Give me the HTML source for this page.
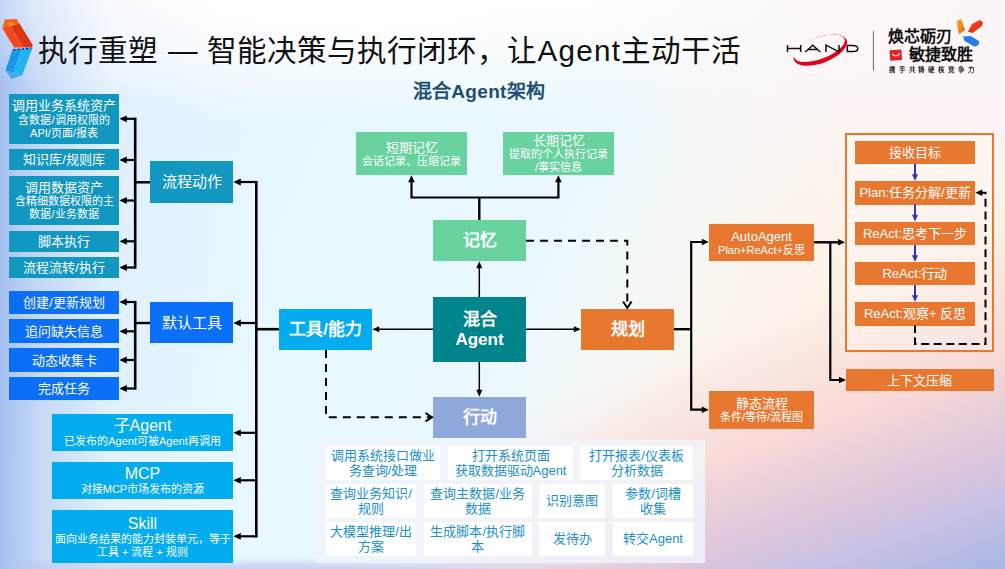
<!DOCTYPE html>
<html lang="zh-CN">
<head>
<meta charset="utf-8">
<title>执行重塑 — 混合Agent架构</title>
<style>
html,body{margin:0;padding:0;}
body{width:1005px;height:569px;position:relative;overflow:hidden;font-family:"Liberation Sans",sans-serif;
background:linear-gradient(115deg, #e2f0ff 0%, #e7f8ff 35%, #ecf9fe 54%, #f6f8f5 62%, #fbf4ec 70%, #fcf0e4 82%, #fbe8de 100%);
}
.bgl{position:absolute;left:0;top:0;width:1005px;height:569px;}
.b{position:absolute;box-sizing:border-box;color:#fff;text-align:center;display:flex;flex-direction:column;justify-content:center;align-items:center;white-space:nowrap;}
.t1{background:#1197c0;}
.t2{background:#0b6ff8;}
.t3{background:#02acee;}
.g{background:#69d3a0;}
.o{background:#e87830;}
.l13{font-size:13px;line-height:15px;}
.l11{font-size:11px;line-height:13px;}
.l15{font-size:15px;line-height:18px;}
.l16{font-size:16px;line-height:18px;}
.bold17{font-size:17px;line-height:20px;font-weight:bold;}
.c{position:absolute;box-sizing:border-box;background:#fff;color:#2090c8;font-size:13px;line-height:15.4px;text-align:center;display:flex;flex-direction:column;justify-content:center;align-items:center;white-space:nowrap;}
#title{position:absolute;left:38px;top:31px;font-size:29.6px;line-height:40px;color:#111;white-space:nowrap;word-spacing:1.7px;}
#sub{position:absolute;left:411px;top:80px;width:136px;font-size:19px;line-height:24px;font-weight:bold;color:#1f4f70;white-space:nowrap;text-align:center;letter-spacing:0.3px;}
svg{position:absolute;left:0;top:0;}
</style>
</head>
<body>

<div class="bgl" style="background:linear-gradient(180deg, rgba(255,255,255,0.85) 0%, rgba(255,255,255,0) 22%);"></div>
<div class="bgl" style="background:radial-gradient(ellipse 420px 270px at 1005px 10px, rgba(253,246,248,1) 0%, rgba(253,246,247,0.75) 45%, rgba(253,246,246,0) 100%);"></div>
<div class="bgl" style="background:linear-gradient(160deg, rgba(250,222,214,0) 64%, rgba(248,214,212,0.85) 77%, rgba(226,200,218,1) 85.5%, rgba(202,194,228,1) 92%, rgba(168,182,228,1) 100%);-webkit-mask-image:linear-gradient(90deg, rgba(0,0,0,0) 30%, #000 68%);mask-image:linear-gradient(90deg, rgba(0,0,0,0) 30%, #000 68%);"></div>
<div class="bgl" style="background:radial-gradient(ellipse 520px 16px at 200px 573px, rgba(190,196,240,0.95) 0%, rgba(190,196,240,0.6) 50%, rgba(196,200,240,0) 100%);"></div>
<div class="bgl" style="background:linear-gradient(90deg, rgba(166,193,240,1) 0px, rgba(186,208,245,0.75) 40px, rgba(215,232,252,0.35) 110px, rgba(230,244,255,0) 220px);"></div>
<div class="bgl" style="background:radial-gradient(ellipse 520px 120px at 330px -10px, rgba(255,255,255,1) 0%, rgba(255,255,255,0) 100%);"></div>
<div id="title">执行重塑 — 智能决策与执行闭环，让<span style="letter-spacing:1.3px;">Agent</span>主动干活</div>
<div id="sub">混合Agent架构</div>


<!-- logos -->
<svg width="1005" height="110" viewBox="0 0 1005 110">
<defs>
<linearGradient id="rg" x1="0" y1="0" x2="1" y2="1"><stop offset="0" stop-color="#ff5a1e"/><stop offset="0.5" stop-color="#e93a14"/><stop offset="1" stop-color="#d42a10"/></linearGradient>
<linearGradient id="bg" x1="0" y1="0" x2="0.6" y2="1"><stop offset="0" stop-color="#0c8ee8"/><stop offset="0.5" stop-color="#1ea8f2"/><stop offset="1" stop-color="#4cb4f4"/></linearGradient>
<linearGradient id="og" x1="0" y1="0" x2="1" y2="1"><stop offset="0" stop-color="#f8b030"/><stop offset="1" stop-color="#ea6212"/></linearGradient>
<mask id="sw"><rect x="780" y="20" width="90" height="60" fill="#fff"/><ellipse cx="819.33" cy="48.15" rx="26.9" ry="10.8" transform="rotate(-20.3 819.33 48.15)" fill="#000"/></mask>
</defs>
<!-- chevron icon -->
<polygon points="2.2,28.1 10.5,26 24,47.6 14.1,47.6" fill="#f2481c"/>
<polygon points="10.5,26 19.5,23.5 32.6,44.7 32.2,47.6 24,47.6" fill="#dc3412"/>
<polygon points="4.9,19.5 16.6,18.9 19.5,23.5 10.5,26 2.2,28.1" fill="#f8621e"/>
<ellipse cx="10.8" cy="24" rx="2.2" ry="1.6" fill="#ffb41e" opacity="0.9"/>
<polygon points="12.3,49.4 22,48.6 13,73 5.5,70.5" fill="#1a96e6"/>
<polygon points="22,48.6 32.6,47.6 22.1,75.5 13,73" fill="#22b4f2"/>
<polygon points="5.5,70.5 13,73 22.1,75.5 11.1,79.1" fill="#4aa8ee"/>
<path d="M13.5 49.6 L31 48.4" stroke="#1430a8" stroke-width="1.6" stroke-dasharray="2 2.2" fill="none"/>
<!-- HAND -->
<g mask="url(#sw)"><ellipse cx="820.4" cy="50.1" rx="28.2" ry="12.9" transform="rotate(-21 820.4 50.1)" fill="#e2001a"/></g>
<g fill="none" stroke="#111" stroke-width="1.5">
<path d="M787.5 45 V52 M800.7 45 V52 M787.5 48.4 H800.7"/>
<path d="M805.2 52 L812.8 45.2 L820.3 52 M808 49.6 H817.6"/>
<path d="M826 52 V45.2 L839 51.8 V45"/>
<path d="M847.3 45.4 H852.5 Q857.8 45.4 857.8 48.5 Q857.8 51.6 852.5 51.6 H847.3 Z"/>
</g>
<line x1="873.4" y1="31" x2="873.4" y2="70.4" stroke="#6a6a6a" stroke-width="1"/>
<!-- shards -->
<polygon points="956.5,21 961.3,18.9 965.1,29.9 958.9,34.5" fill="url(#og)"/>
<polygon points="967.8,31.7 972,24 979.8,20.1 983,22.2 982.2,25.7 972.6,32.9" fill="url(#rg)"/>
<polygon points="963,36.5 970.8,35.9 979.2,41.3 978.6,44.9 974.4,46.7 964.3,40.7" fill="#2a7ce2"/>
<!-- red square -->
<g transform="rotate(-4 896 55)"><rect x="889.8" y="49.8" width="12" height="10.6" rx="0.8" fill="#e0262a"/><path d="M892.5 54.2 Q896 57.6 899.6 54.2" stroke="#fff" stroke-width="1" fill="none" stroke-linecap="round"/></g>
</svg>
<div style="position:absolute;left:888.3px;top:27.3px;font-size:16px;line-height:20px;font-weight:bold;color:#111;white-space:nowrap;">焕芯砺刃</div>
<div style="position:absolute;left:908.7px;top:45.2px;font-size:16px;line-height:20px;font-weight:bold;color:#111;white-space:nowrap;">敏捷致胜</div>
<div style="position:absolute;left:889px;top:62px;font-size:13px;line-height:16px;font-weight:bold;color:#222;white-space:nowrap;letter-spacing:6.65px;transform:scale(0.5);transform-origin:0 50%;">携手共铸硬核竞争力</div>

<!-- left column group 1 -->
<div class="b t1" style="left:9px;top:94px;width:110px;height:50px;"><span class="l13" style="position:relative;top:-1px;">调用业务系统资产</span><span class="l11">含数据/调用权限的</span><span class="l11">API/页面/报表</span></div>
<div class="b t1 l13" style="left:9px;top:149px;width:110px;height:21px;">知识库/规则库</div>
<div class="b t1" style="left:9px;top:176px;width:110px;height:49px;"><span class="l13">调用数据资产</span><span class="l11">含精细数据权限的主</span><span class="l11">数据/业务数据</span></div>
<div class="b t1 l13" style="left:9px;top:231px;width:110px;height:21px;">脚本执行</div>
<div class="b t1 l13" style="left:9px;top:257px;width:110px;height:21px;">流程流转/执行</div>
<div class="b t1 l15" style="left:150px;top:161px;width:83px;height:42px;">流程动作</div>

<!-- group 2 -->
<div class="b t2 l13" style="left:9px;top:291px;width:110px;height:23px;">创建/更新规划</div>
<div class="b t2 l13" style="left:9px;top:319px;width:110px;height:24px;">追问缺失信息</div>
<div class="b t2 l13" style="left:9px;top:348px;width:110px;height:24px;">动态收集卡</div>
<div class="b t2 l13" style="left:9px;top:377px;width:110px;height:23px;">完成任务</div>
<div class="b t2 l15" style="left:150px;top:302px;width:83px;height:41px;">默认工具</div>

<!-- group 3 -->
<div class="b t3" style="left:52px;top:414px;width:181px;height:37px;"><span class="l16">子Agent</span><span class="l11">已发布的Agent可被Agent再调用</span></div>
<div class="b t3" style="left:52px;top:462px;width:181px;height:37px;"><span class="l16">MCP</span><span class="l11">对接MCP市场发布的资源</span></div>
<div class="b t3" style="left:52px;top:510px;width:181px;height:53px;"><span class="l16">Skill</span><span class="l11">面向业务结果的能力封装单元，等于</span><span class="l11">工具 + 流程 + 规则</span></div>

<!-- centre -->
<div class="b t3 bold17" style="left:279px;top:309px;width:93px;height:41px;">工具/能力</div>
<div class="b bold17" style="left:433px;top:297px;width:93px;height:65px;background:#00858c;"><span>混合</span><span>Agent</span></div>
<div class="b g bold17" style="left:433px;top:220px;width:93px;height:41px;">记忆</div>
<div class="b bold17" style="left:433px;top:397px;width:93px;height:41px;background:#8fa8dc;">行动</div>
<div class="b g" style="left:356px;top:132px;width:111px;height:43px;"><span class="l13">短期记忆</span><span class="l11">会话记录、压缩记录</span></div>
<div class="b g" style="left:503px;top:132px;width:111px;height:43px;"><span class="l13">长期记忆</span><span class="l11">提取的个人执行记录</span><span class="l11">/事实信息</span></div>

<!-- planning -->
<div class="b o bold17" style="left:581px;top:309px;width:93px;height:41px;">规划</div>
<div class="b o" style="left:709px;top:224px;width:105px;height:37px;"><span class="l13">AutoAgent</span><span class="l11">Plan+ReAct+反思</span></div>
<div class="b o" style="left:709px;top:391px;width:105px;height:37.5px;"><span class="l13">静态流程</span><span class="l11">条件/等待/流程图</span></div>

<div style="position:absolute;left:845px;top:133px;width:148.5px;height:218.5px;box-sizing:border-box;border:2px solid #e87830;background:rgba(255,252,248,0.3);"></div>
<div class="b o l13" style="left:855px;top:141px;width:120px;height:23px;">接收目标</div>
<div class="b o l13" style="left:855px;top:181px;width:120px;height:23.5px;">Plan:任务分解/更新</div>
<div class="b o l13" style="left:855px;top:221.5px;width:120px;height:23.5px;">ReAct:思考下一步</div>
<div class="b o l13" style="left:855px;top:262px;width:120px;height:23px;">ReAct:行动</div>
<div class="b o l13" style="left:855px;top:302px;width:120px;height:23.5px;">ReAct:观察+ 反思</div>
<div class="b o l13" style="left:846px;top:369px;width:147.5px;height:22px;">上下文压缩</div>

<!-- action grid -->
<div style="position:absolute;left:316px;top:440px;width:389px;height:123px;background:rgba(240,244,251,0.85);"></div>
<div class="c" style="left:326px;top:446px;width:114px;height:34px;"><span>调用系统接口做业</span><span>务查询/处理</span></div>
<div class="c" style="left:448px;top:446px;width:125px;height:34px;"><span>打开系统页面</span><span>获取数据驱动Agent</span></div>
<div class="c" style="left:580px;top:446px;width:113px;height:34px;"><span>打开报表/仪表板</span><span>分析数据</span></div>
<div class="c" style="left:326px;top:484px;width:90px;height:34px;"><span>查询业务知识/</span><span>规则</span></div>
<div class="c" style="left:424px;top:484px;width:107.5px;height:34px;"><span>查询主数据/业务</span><span>数据</span></div>
<div class="c" style="left:539px;top:484px;width:66px;height:34px;">识别意图</div>
<div class="c" style="left:613px;top:484px;width:80px;height:34px;"><span>参数/词槽</span><span>收集</span></div>
<div class="c" style="left:326px;top:522px;width:90px;height:34px;"><span>大模型推理/出</span><span>方案</span></div>
<div class="c" style="left:424px;top:522px;width:107.5px;height:34px;"><span>生成脚本/执行脚</span><span>本</span></div>
<div class="c" style="left:539px;top:522px;width:66px;height:34px;">发待办</div>
<div class="c" style="left:613px;top:522px;width:80px;height:34px;">转交Agent</div>

<svg width="1005" height="569" viewBox="0 0 1005 569">
<defs>
<marker id="ah" viewBox="0 0 10 10" refX="0.5" refY="5" markerWidth="8" markerHeight="8" markerUnits="userSpaceOnUse" orient="auto"><path d="M10 0.8 L0 5 L10 9.2 Z" fill="#000"/></marker>
</defs>
<g id="lines">
<path d="M135.2 117.6 L135.2 268.7" stroke="#000" stroke-width="2.6" fill="none"/>
<path d="M125 118.8 L135.2 118.8" stroke="#000" stroke-width="2.2" fill="none"/>
<polygon points="119.3,118.8 126.8,115.39999999999999 126.8,122.2" fill="#000"/>
<path d="M125 160 L135.2 160" stroke="#000" stroke-width="2.2" fill="none"/>
<polygon points="119.3,160 126.8,156.6 126.8,163.4" fill="#000"/>
<path d="M125 200.5 L135.2 200.5" stroke="#000" stroke-width="2.2" fill="none"/>
<polygon points="119.3,200.5 126.8,197.1 126.8,203.9" fill="#000"/>
<path d="M125 241.3 L135.2 241.3" stroke="#000" stroke-width="2.2" fill="none"/>
<polygon points="119.3,241.3 126.8,237.9 126.8,244.70000000000002" fill="#000"/>
<path d="M125 267.5 L135.2 267.5" stroke="#000" stroke-width="2.2" fill="none"/>
<polygon points="119.3,267.5 126.8,264.1 126.8,270.9" fill="#000"/>
<path d="M135.2 182.3 L150 182.3" stroke="#000" stroke-width="2.4" fill="none"/>
<path d="M135.2 300.9 L135.2 389.7" stroke="#000" stroke-width="2.6" fill="none"/>
<path d="M125 302 L135.2 302" stroke="#000" stroke-width="2.2" fill="none"/>
<polygon points="119.3,302 126.8,298.6 126.8,305.4" fill="#000"/>
<path d="M125 331.3 L135.2 331.3" stroke="#000" stroke-width="2.2" fill="none"/>
<polygon points="119.3,331.3 126.8,327.90000000000003 126.8,334.7" fill="#000"/>
<path d="M125 360 L135.2 360" stroke="#000" stroke-width="2.2" fill="none"/>
<polygon points="119.3,360 126.8,356.6 126.8,363.4" fill="#000"/>
<path d="M125 388.5 L135.2 388.5" stroke="#000" stroke-width="2.2" fill="none"/>
<polygon points="119.3,388.5 126.8,385.1 126.8,391.9" fill="#000"/>
<path d="M135.2 323 L150 323" stroke="#000" stroke-width="2.4" fill="none"/>
<path d="M256.3 180.9 L256.3 537.5" stroke="#000" stroke-width="2.6" fill="none"/>
<path d="M240 182 L256.3 182" stroke="#000" stroke-width="2.2" fill="none"/>
<polygon points="233.3,182 240.8,178.6 240.8,185.4" fill="#000"/>
<path d="M240 323 L256.3 323" stroke="#000" stroke-width="2.2" fill="none"/>
<polygon points="233.3,323 240.8,319.6 240.8,326.4" fill="#000"/>
<path d="M240 432.8 L256.3 432.8" stroke="#000" stroke-width="2.2" fill="none"/>
<polygon points="233.3,432.8 240.8,429.40000000000003 240.8,436.2" fill="#000"/>
<path d="M240 480.3 L256.3 480.3" stroke="#000" stroke-width="2.2" fill="none"/>
<polygon points="233.3,480.3 240.8,476.90000000000003 240.8,483.7" fill="#000"/>
<path d="M240 536.3 L256.3 536.3" stroke="#000" stroke-width="2.2" fill="none"/>
<polygon points="233.3,536.3 240.8,532.9 240.8,539.6999999999999" fill="#000"/>
<path d="M256.3 329.2 L279 329.2" stroke="#000" stroke-width="2.6" fill="none"/>
<path d="M433 329.2 L378 329.2" stroke="#000" stroke-width="1.5" fill="none"/>
<polygon points="372.2,329.2 379.2,326.2 379.2,332.2" fill="#000"/>
<path d="M526 329.2 L575 329.2" stroke="#000" stroke-width="1.5" fill="none"/>
<polygon points="580.8,329.2 573.8,326.2 573.8,332.2" fill="#000"/>
<path d="M479.3 297 L479.3 267" stroke="#000" stroke-width="1.5" fill="none"/>
<polygon points="479.3,261.2 476.3,268.2 482.3,268.2" fill="#000"/>
<path d="M479.3 362 L479.3 391" stroke="#000" stroke-width="1.5" fill="none"/>
<polygon points="479.3,396.8 476.3,389.8 482.3,389.8" fill="#000"/>
<path d="M479.3 220 L479.3 197.5" stroke="#000" stroke-width="2.4" fill="none"/>
<path d="M411.5 181 L411.5 197.5 L558.4 197.5 L558.4 181" stroke="#000" stroke-width="2.2" fill="none"/>
<polygon points="411.5,175.3 408.2,182.3 414.8,182.3" fill="#000"/>
<polygon points="558.4,175.3 555.1,182.3 561.6999999999999,182.3" fill="#000"/>
<path d="M526 240.8 L627.3 240.8 L627.3 306" stroke="#000" stroke-width="2" fill="none" stroke-dasharray="8 6"/>
<path d="M623.0999999999999 301.5 L627.3 308 L631.5 301.5" stroke="#000" stroke-width="2" fill="none"/>
<path d="M326 350 L326 417.2 L430 417.2" stroke="#000" stroke-width="2" fill="none" stroke-dasharray="8 6"/>
<path d="M425.5 413.0 L432 417.2 L425.5 421.4" stroke="#000" stroke-width="2" fill="none"/>
<path d="M674 329.2 L691.2 329.2" stroke="#000" stroke-width="2.4" fill="none"/>
<path d="M703 242 L691.2 242 L691.2 409.7 L703 409.7" stroke="#000" stroke-width="2.2" fill="none"/>
<polygon points="708.8,242 701.8,238.8 701.8,245.2" fill="#000"/>
<polygon points="708.8,409.7 701.8,406.5 701.8,412.9" fill="#000"/>
<path d="M814 242.3 L839 242.3" stroke="#000" stroke-width="2.4" fill="none"/>
<polygon points="845,242.3 838,239.10000000000002 838,245.5" fill="#000"/>
<path d="M830.3 242.3 L830.3 380 L840 380" stroke="#000" stroke-width="2.2" fill="none"/>
<polygon points="846,380 839,376.8 839,383.2" fill="#000"/>
<path d="M915 164 L915 176" stroke="#3333bb" stroke-width="2" fill="none"/>
<polygon points="915,181 912,174.2 918,174.2" fill="#3333bb"/>
<path d="M915 204.5 L915 216.5" stroke="#3333bb" stroke-width="2" fill="none"/>
<polygon points="915,221.5 912,214.7 918,214.7" fill="#3333bb"/>
<path d="M915 245 L915 257" stroke="#3333bb" stroke-width="2" fill="none"/>
<polygon points="915,262 912,255.2 918,255.2" fill="#3333bb"/>
<path d="M915 285 L915 297" stroke="#3333bb" stroke-width="2" fill="none"/>
<polygon points="915,302 912,295.2 918,295.2" fill="#3333bb"/>
<path d="M915 325.5 L915 344 L985.5 344 L985.5 192.7 L981 192.7" stroke="#000" stroke-width="2" fill="none" stroke-dasharray="8 4.6" stroke-dashoffset="0.6"/>
<polygon points="975.3,192.7 982.3,189.5 982.3,195.89999999999998" fill="#000"/>

</g>
</svg>
</body>
</html>
